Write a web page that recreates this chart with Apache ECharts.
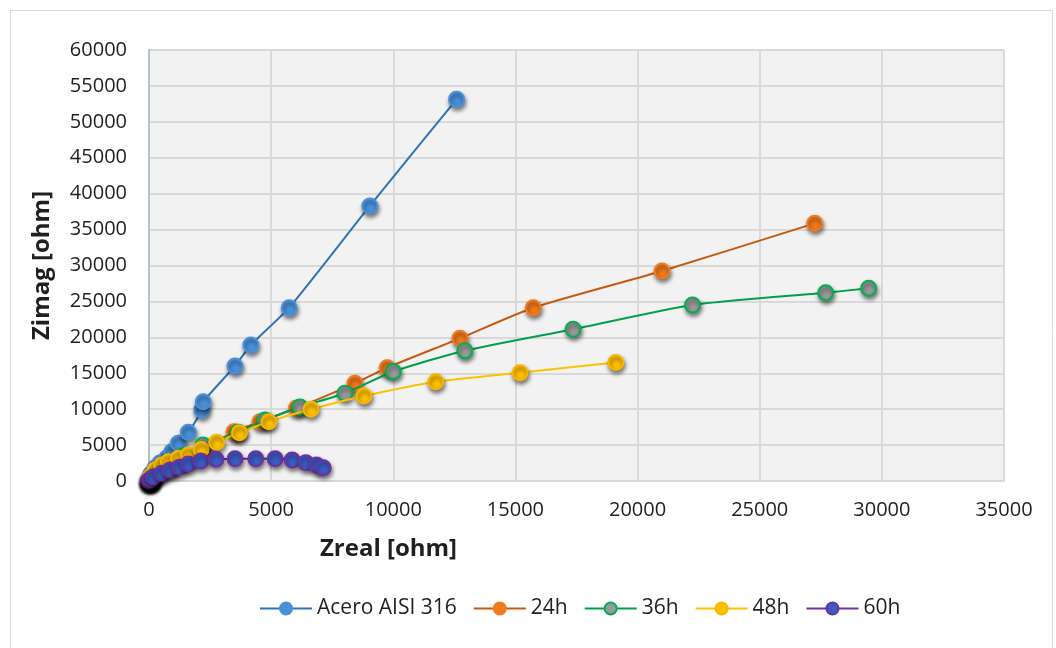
<!DOCTYPE html>
<html>
<head>
<meta charset="utf-8">
<title>Zreal vs Zimag</title>
<script src="https://cdn.jsdelivr.net/npm/echarts@6/dist/echarts.min.js"></script>
<style>
  html, body { margin: 0; padding: 0; background: #ffffff; }
  #chart { width: 1056px; height: 648px; }
</style>
</head>
<body>
<div id="chart"></div>
<script>
// Nyquist data: real part (x) and imaginary part (y) of impedance, in ohm
const seriesNames = ['Acero AISI 316', '24h', '36h', '48h', '60h'];

const aceroZreal = [0, 20, 80, 250, 450, 720, 930, 1200, 1610, 2160, 2220, 3520, 4170, 5740, 9040, 12590];
const aceroZimag = [0, 150, 970, 1810, 2500, 3160, 4080, 5250, 6780, 9880, 11040, 16010, 18930, 24130, 38290, 53140];

const h24Zreal = [0, 20, 120, 400, 900, 1500, 2200, 3480, 4540, 6040, 8430, 9750, 12730, 15730, 21000, 27250];
const h24Zimag = [0, 60, 300, 1000, 1900, 2900, 4200, 6860, 8240, 10160, 13600, 15770, 19860, 24120, 29230, 35870];

const h36Zreal = [0, 20, 80, 350, 800, 1400, 2210, 3650, 4750, 6180, 8020, 10000, 12930, 17360, 22250, 27700, 29460];
const h36Zimag = [0, 60, 300, 1100, 2200, 3500, 5010, 6790, 8490, 10300, 12220, 15240, 18140, 21120, 24500, 26210, 26830];

const h48Zreal = [0, 20, 80, 250, 520, 790, 1200, 1610, 2130, 2770, 3700, 4910, 6630, 8800, 11740, 15190, 19110];
const h48Zimag = [0, 150, 700, 1530, 2230, 2690, 3160, 3620, 4390, 5390, 6720, 8250, 9980, 11830, 13820, 15080, 16500];

const h60Zreal = [0, 0, 20, 60, 180, 520, 860, 1240, 1610, 2120, 2740, 3520, 4370, 5160, 5860, 6420, 6860, 7130];
const h60Zimag = [0, 0, 60, 200, 600, 1070, 1530, 1910, 2370, 2780, 3020, 3100, 3100, 3100, 2920, 2550, 2230, 1850];

const xTicks = [0, 5000, 10000, 15000, 20000, 25000, 30000, 35000];
const yTicks = [0, 5000, 10000, 15000, 20000, 25000, 30000, 35000, 40000, 45000, 50000, 55000, 60000];

function pairs(xs, ys) {
  return xs.map((x, i) => [x, ys[i]]);
}

const styles = [
  { line: '#2e75b6', fill: '#4a90d9', border: '#4a90d9' },
  { line: '#c55a11', fill: '#f07a1e', border: '#f07a1e' },
  { line: '#00a04a', fill: '#999999', border: '#00b050' },
  { line: '#ffc000', fill: '#ffc000', border: '#f5b800' },
  { line: '#7030a0', fill: '#3c5cc4', border: '#7030a0' }
];

const dataSets = [
  pairs(aceroZreal, aceroZimag),
  pairs(h24Zreal, h24Zimag),
  pairs(h36Zreal, h36Zimag),
  pairs(h48Zreal, h48Zimag),
  pairs(h60Zreal, h60Zimag)
];

const tickFont = '"Open Sans", "Noto Sans", sans-serif';

const chart = echarts.init(document.getElementById('chart'), null, { renderer: 'canvas' });

chart.setOption({
  animation: false,
  backgroundColor: '#ffffff',
  graphic: [{
    type: 'rect',
    left: 8, top: 8,
    shape: { width: 1042, height: 640 },
    style: { fill: 'none', stroke: '#d9d9d9', lineWidth: 1 },
    z: -10
  }],
  grid: {
    left: 149, right: 52, top: 50, bottom: 167,
    show: true, backgroundColor: '#f2f2f2', borderWidth: 0
  },
  legend: {
    top: 593,
    left: 254,
    itemWidth: 52,
    itemHeight: 15,
    itemGap: 16,
    textStyle: { fontFamily: tickFont, fontSize: 21, color: '#1f1f1f' },
    data: seriesNames
  },
  xAxis: {
    type: 'value',
    min: 0, max: 35000, interval: 5000,
    name: 'Zreal [ohm]',
    nameLocation: 'middle',
    nameGap: 56,
    nameTextStyle: {
      fontFamily: tickFont, fontSize: 24, fontWeight: 'bold', color: '#1f1f1f',
      padding: [0, 376, 0, 0]
    },
    axisLine: { show: true, lineStyle: { color: '#d9d9d9', width: 2 } },
    axisTick: { show: false },
    axisLabel: {
      margin: 19, fontFamily: tickFont, fontSize: 20, color: '#1f1f1f',
      formatter: v => (xTicks.indexOf(v) >= 0 ? String(v) : '')
    },
    splitLine: { show: true, lineStyle: { color: '#d9d9d9', width: 2 } }
  },
  yAxis: {
    type: 'value',
    min: 0, max: 60000, interval: 5000,
    name: 'Zimag [ohm]',
    nameLocation: 'middle',
    nameGap: 95,
    nameRotate: 90,
    nameTextStyle: { fontFamily: tickFont, fontSize: 24, fontWeight: 'bold', color: '#1f1f1f' },
    axisLine: { show: true, lineStyle: { color: '#b4c0d4', width: 2 } },
    axisTick: { show: false },
    axisLabel: {
      margin: 22, fontFamily: tickFont, fontSize: 20, color: '#1f1f1f',
      formatter: v => (yTicks.indexOf(v) >= 0 ? String(v) : '')
    },
    splitLine: { show: true, lineStyle: { color: '#d9d9d9', width: 2 } }
  },
  series: dataSets.map((d, i) => ({
    name: seriesNames[i],
    type: 'line',
    data: d,
    smooth: 0.2,
    clip: false,
    symbol: 'circle',
    symbolSize: 15,
    showAllSymbol: true,
    z: 2 + i,
    lineStyle: { color: styles[i].line, width: 2 },
    itemStyle: {
      color: styles[i].fill,
      borderColor: styles[i].border,
      borderWidth: 2,
      shadowColor: 'rgba(0,0,0,0.5)',
      shadowBlur: 4,
      shadowOffsetX: 1,
      shadowOffsetY: 3
    },
    emphasis: { disabled: true }
  }))
});
</script>
</body>
</html>
